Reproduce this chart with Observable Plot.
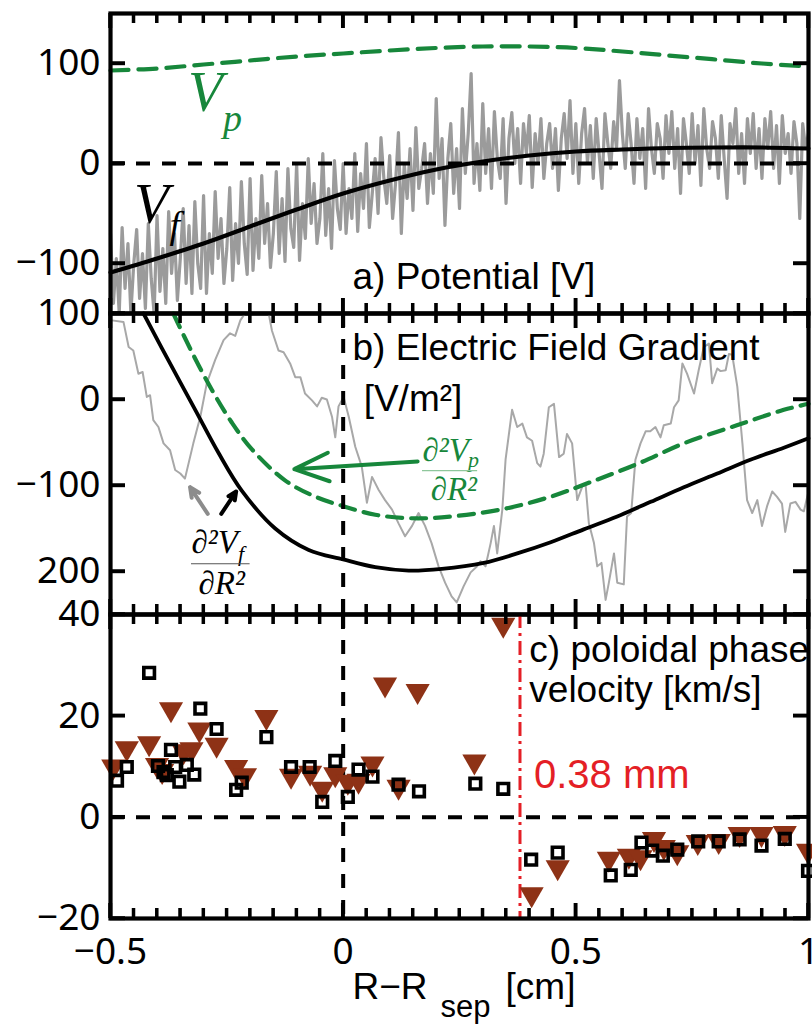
<!DOCTYPE html>
<html><head><meta charset="utf-8">
<script src="https://cdn.jsdelivr.net/npm/d3@7"></script>
<script src="https://cdn.jsdelivr.net/npm/@observablehq/plot@0.6"></script>
<style>body{margin:0;background:#fff;}</style></head>
<body><div id="wrap"></div>
<script>
// ---------- ticks ----------
const xTickMajor = [-0.5, 0, 0.5, 1];
const xTickLabels = ["−0.5", "0", "0.5", "1"];
const xTickMinor = [-0.45,-0.4,-0.35,-0.3,-0.25,-0.2,-0.15,-0.1,-0.05,0.05,0.1,0.15,0.2,0.25,0.3,0.35,0.4,0.45,0.55,0.6,0.65,0.7,0.75,0.8,0.85,0.9,0.95];
const yTicksA = [100, 0, -100];
const yLabelsA = ["100", "0", "−100"];
const yTicksB = [100, 0, -100, -200];
const yLabelsB = ["100", "0", "−100", "200"];
const yTicksC = [40, 20, 0, -20];
const yLabelsC = ["40", "20", "0", "−20"];

// ---------- panel a: potential ----------
const vfRawStart = -0.5, vfRawStep = 0.00625;
const vfRaw = [
-70,-140,-95,-155,-64,-125,-80,-150,-100,-66,-135,-90,-145,-60,-115,-150,
-52,-128,-85,-140,-48,-110,-70,-137,-95,-45,-120,-62,-130,-38,-100,-125,
-32,-130,-70,-110,-28,-95,-55,-120,-85,-24,-117,-60,-100,-18,-80,-111,
-15,-107,-55,-95,-12,-80,-40,-104,-70,-8,-90,-35,-98,-5,-65,-84,
0,-97,-40,-75,5,-60,-20,-80,-55,10,-72,-25,-85,3,-45,-66,
0,-70,-25,-55,10,-68,-10,-45,20,-64,-30,5,-50,26,-15,-40,
8,-55,-20,31,-70,0,-35,15,-47,36,-25,-5,20,-40,10,-30,
65,-15,25,-62,5,40,-30,15,-45,55,-10,30,90,-20,20,-27,
60,-10,35,-25,52,5,-15,45,-40,25,51,0,35,-20,40,10,
48,-24,30,0,45,-15,20,40,-5,35,-27,25,50,5,63,-10,
40,-20,30,55,0,38,-15,45,10,-25,50,20,-5,42,15,83,
30,-5,50,20,-20,45,5,35,-25,55,15,-10,40,25,-15,48,
10,52,-5,35,-30,45,20,-10,50,0,38,-22,55,15,-5,42,
25,-15,48,5,-35,40,20,55,-10,30,-20,45,10,50,-5,35,
-15,45,15,52,-5,38,-20,48,10,30,-10,42,20,-55,40,15,
30];
const fitX = [-0.5,-0.4,-0.3,-0.2,-0.1,0,0.1,0.2,0.3,0.4,0.5,0.6,0.7,0.8,0.9,1.0];
const vfFit = [-109,-95,-80,-63,-46,-30,-17,-6,2,8,12,14,15.5,16,16,15];
const vpFit = [93,95,99,103,107,110,113,115.5,117,117,115.5,112,108,104,100,97];

// ---------- panel b: electric field gradient ----------
const d2vfX = [-0.429,-0.39,-0.35,-0.315,-0.268,-0.218,-0.146,-0.074,0,0.069,0.141,0.212,0.302,0.374,0.446,0.517,0.589,0.661,0.732,0.804,0.875,0.947,1.0];
const d2vfY = [100,60,20,-15,-62,-106,-150,-175,-186,-195,-199,-197,-190,-179,-166,-151,-136,-119,-102,-86,-70,-56,-45];
const d2vpX = [-0.365,-0.325,-0.282,-0.239,-0.196,-0.125,-0.06,0,0.069,0.141,0.212,0.338,0.446,0.532,0.632,0.732,0.846,0.947,1.0];
const d2vpY = [100,55,11,-27,-58,-94,-113,-124,-134,-138,-137,-128,-113,-96,-75,-51,-30,-12,-5];
const gradRawX = [-0.497,-0.472,-0.461,-0.451,-0.44,-0.431,-0.422,-0.415,-0.408,-0.397,-0.386,-0.372,-0.361,-0.35,-0.34,-0.322,-0.307,-0.293,-0.275,-0.257,-0.243,-0.232,-0.221,-0.211,-0.175,-0.16,-0.153,-0.139,-0.128,-0.114,-0.103,-0.092,-0.082,-0.067,-0.056,-0.046,-0.035,-0.024,-0.017,-0.01,0.001,0.012,0.026,0.04,0.051,0.062,0.076,0.09,0.105,0.119,0.133,0.148,0.162,0.176,0.19,0.205,0.219,0.233,0.244,0.259,0.274,0.288,0.295,0.306,0.317,0.324,0.331,0.342,0.349,0.363,0.374,0.385,0.395,0.406,0.417,0.424,0.431,0.442,0.453,0.464,0.474,0.481,0.492,0.503,0.514,0.521,0.528,0.539,0.546,0.555,0.564,0.571,0.582,0.589,0.603,0.61,0.619,0.628,0.639,0.65,0.66,0.671,0.682,0.689,0.704,0.711,0.721,0.729,0.739,0.754,0.764,0.775,0.786,0.793,0.804,0.811,0.822,0.829,0.836,0.847,0.858,0.868,0.879,0.89,0.9,0.911,0.922,0.932,0.943,0.95,0.961,0.972,0.983,0.99,1.0];
const gradRawY = [92,90,61,57,30,32,3,5,-24,-32,-51,-59,-82,-86,-92,-51,-20,19,46,69,77,74,92,108,125,100,80,57,55,42,26,26,7,-1,-8,2,0,-20,-44,-8,3,-20,-55,-78,-120,-90,-105,-117,-128,-144,-159,-147,-132,-147,-167,-194,-213,-229,-236,-217,-201,-194,-188,-194,-167,-147,-179,-128,-70,-12,-32,-28,-44,-48,-74,-78,-63,-9,-5,-67,-63,-40,-51,-117,-101,-99,-144,-167,-194,-190,-233,-213,-179,-213,-215,-136,-132,-70,-51,-37,-37,-32,-44,-30,-28,-9,-1,42,30,7,34,61,65,19,36,33,34,53,52,15,-51,-117,-132,-117,-147,-124,-107,-113,-121,-154,-121,-119,-128,-130,-107];

// ---------- panel c: poloidal phase velocity ----------
const sqX = [-0.486,-0.465,-0.417,-0.398,-0.386,-0.379,-0.37,-0.361,-0.352,-0.336,-0.32,-0.307,-0.272,-0.23,-0.218,-0.165,-0.112,-0.072,-0.045,-0.017,0.01,0.033,0.063,0.119,0.163,0.284,0.344,0.404,0.461,0.575,0.618,0.641,0.664,0.687,0.718,0.763,0.807,0.852,0.899,0.949,0.999];
const sqY = [7.2,9.9,28.5,10.1,8.9,8.3,13.3,9.9,7.0,10.3,8.4,21.4,17.4,5.4,6.8,15.8,9.9,9.9,3.0,11.1,4.0,9.4,8.0,6.4,5.1,6.6,5.6,-8.4,-7.0,-11.5,-10.4,-5.0,-6.6,-7.6,-6.4,-4.8,-4.8,-4.4,-5.6,-4.3,-10.6];
const triX = [-0.494,-0.465,-0.417,-0.4,-0.389,-0.37,-0.343,-0.326,-0.309,-0.272,-0.23,-0.211,-0.165,-0.112,-0.071,-0.045,-0.017,0.01,0.033,0.063,0.09,0.119,0.16,0.282,0.344,0.405,0.461,0.571,0.614,0.639,0.668,0.689,0.718,0.762,0.807,0.852,0.899,0.949,0.999];
const triY = [9.3,12.9,13.9,9.6,8.4,20.6,12.3,12.7,16.6,13.6,9.2,7.6,19.1,7.5,8.1,4.9,7.8,6.3,6.5,9.9,25.5,5.3,24.2,10.3,37.3,-15.9,-10.6,-8.9,-8.3,-8.6,-5.0,-6.6,-7.6,-5.6,-5.4,-4.0,-4.0,-3.8,-7.3];
const sepMarker = [0.38];

// ---------- styles ----------
const GREEN = "#17873b", BROWN = "#8e3216", RED = "#e41f26";
const SANS = "Liberation Sans, Arial, Helvetica, sans-serif";
const SERIF = "Liberation Serif, Times New Roman, serif";
const W = 812, ML = 110, MR = 4;
const FW = W - ML - MR;
const XDOM = [-0.5, 1];
const DASH = "14,12";

function fmtFrom(ticks, labels) { return d => labels[ticks.indexOf(d)] ?? ""; }

// inward ticks first, then the frame and tick labels
function frameAxes(fh, yTicks, yLabels, opts = {}) {
  const marks = [
    Plot.ruleX(xTickMinor, {insetBottom: fh - 10, stroke: "#000", strokeWidth: 3}),
    Plot.ruleX(xTickMinor, {insetTop: fh - 10, stroke: "#000", strokeWidth: 3}),
    Plot.ruleX(xTickMajor, {insetBottom: fh - 15, stroke: "#000", strokeWidth: 3.4}),
    Plot.ruleX(xTickMajor, {insetTop: fh - 15, stroke: "#000", strokeWidth: 3.4}),
    Plot.ruleY(yTicks, {insetRight: FW - 15, stroke: "#000", strokeWidth: 3.4}),
    Plot.ruleY(yTicks, {insetLeft: FW - 15, stroke: "#000", strokeWidth: 3.4}),
    Plot.frame({strokeWidth: 4.2}),
    Plot.axisY({anchor: "left", ticks: yTicks, tickSize: 0, tickPadding: 10, fontSize: 37, tickFormat: fmtFrom(yTicks, yLabels), label: null})
  ];
  if (opts.xLabels) marks.push(Plot.axisX({anchor: "bottom", ticks: xTickMajor, tickSize: 0, tickPadding: 19, fontSize: 37, tickFormat: fmtFrom(xTickMajor, xTickLabels), label: null}));
  return marks;
}

// same ticks, placed with the plot's own scales (backup layer)
function overlayTicks(svg, yTicks) {
  const sx = svg.scale("x"), sy = svg.scale("y");
  const [yb, yt] = sy.range, [xl, xr] = sx.range;
  const g = d3.select(svg).append("g").attr("stroke", "#000").attr("fill", "none");
  const seg = (x1, y1, x2, y2, w) => g.append("line").attr("x1", x1).attr("y1", y1).attr("x2", x2).attr("y2", y2).attr("stroke-width", w);
  xTickMinor.forEach(v => { const x = sx.apply(v); seg(x, yt, x, yt + 10, 3); seg(x, yb, x, yb - 10, 3); });
  xTickMajor.forEach(v => { const x = sx.apply(v); seg(x, yt, x, yt + 15, 3.4); seg(x, yb, x, yb - 15, 3.4); });
  yTicks.forEach(v => { const y = sy.apply(v); seg(xl, y, xl + 15, y, 3.4); seg(xr, y, xr - 15, y, 3.4); });
}

function base(height, mt, mb, ydomain, marks) {
  return Plot.plot({
    width: W, height, marginLeft: ML, marginRight: MR, marginTop: mt, marginBottom: mb,
    x: {domain: XDOM, axis: null},
    y: {domain: ydomain, axis: null, clamp: true},
    style: {background: "transparent", overflow: "visible", display: "block"},
    marks
  });
}

const wrap = document.getElementById("wrap");
function place(svg, yTicks) {
  wrap.appendChild(svg);
  try { overlayTicks(svg, yTicks); } catch (e) { console.error(e); }
}

// ---------- Panel A (svg height 313) ----------
const rawA = vfRaw.map((v, i) => ({x: vfRawStart + i * vfRawStep, y: v}));
const fitA = fitX.map((x, i) => ({x, vf: vfFit[i], vp: vpFit[i]}));
const plotA = base(313, 13, 0, [-150, 150], [
  Plot.line(rawA, {x: "x", y: "y", stroke: "#9b9b9b", strokeWidth: 3.2}),
  Plot.ruleY([0], {stroke: "black", strokeWidth: 4, strokeDasharray: DASH}),
  Plot.line(fitA, {x: "x", y: "vf", stroke: "black", strokeWidth: 4.2, curve: "catmull-rom"}),
  Plot.line(fitA, {x: "x", y: "vp", stroke: GREEN, strokeWidth: 4.2, strokeDasharray: "18,10", curve: "catmull-rom"}),
  Plot.text(["V"], {x: -0.296, y: 53, text: d => d, fontFamily: SERIF, fontStyle: "italic", fontSize: 57, fill: GREEN, textAnchor: "middle", lineAnchor: "bottom"}),
  Plot.text(["p"], {x: -0.238, y: 33, text: d => d, fontFamily: SERIF, fontStyle: "italic", fontSize: 38, fill: GREEN, textAnchor: "middle", lineAnchor: "bottom"}),
  Plot.text(["V"], {x: -0.412, y: -59, text: d => d, fontFamily: SERIF, fontStyle: "italic", fontSize: 57, fill: "black", textAnchor: "middle", lineAnchor: "bottom"}),
  Plot.text(["f"], {x: -0.362, y: -74, text: d => d, fontFamily: SERIF, fontStyle: "italic", fontSize: 38, fill: "black", textAnchor: "middle", lineAnchor: "bottom"}),
  Plot.text(["a) Potential [V]"], {x: 0.02, y: -125, text: d => d, fontFamily: SANS, fontSize: 37, fill: "black", textAnchor: "start", lineAnchor: "bottom"}),
  ...frameAxes(300, yTicksA, yLabelsA)
]);
place(plotA, yTicksA);

// ---------- Panel B (svg height 301) ----------
const rawB = gradRawX.map((x, i) => ({x, y: gradRawY[i]}));
const vfB = d2vfX.map((x, i) => ({x, y: d2vfY[i]}));
const vpB = d2vpX.map((x, i) => ({x, y: d2vpY[i]}));
const plotB = base(301, 0, 0, [-250, 100], [
  Plot.line(rawB, {x: "x", y: "y", stroke: "#a8a8a8", strokeWidth: 2}),
  Plot.line(vfB, {x: "x", y: "y", stroke: "black", strokeWidth: 3.8, curve: "catmull-rom"}),
  Plot.line(vpB, {x: "x", y: "y", stroke: GREEN, strokeWidth: 4.2, strokeDasharray: "15,9", curve: "catmull-rom"}),
  Plot.ruleX([0], {stroke: "black", strokeWidth: 4, strokeDasharray: DASH}),
  Plot.text(["b) Electric Field Gradient"], {x: 0.02, y: 46.5, text: d => d, fontFamily: SANS, fontSize: 37, fill: "black", textAnchor: "start", lineAnchor: "bottom"}),
  Plot.text(["[V/m²]"], {x: 0.044, y: -13, text: d => d, fontFamily: SANS, fontSize: 37, fill: "black", textAnchor: "start", lineAnchor: "bottom"}),
  Plot.arrow([0], {x1: 0.16, y1: -72, x2: -0.105, y2: -81, stroke: GREEN, strokeWidth: 4, headLength: 14, headAngle: 45}),
  Plot.arrow([0], {x1: -0.291, y1: -133, x2: -0.329, y2: -102, stroke: "#8c8c8c", strokeWidth: 4, headLength: 11, headAngle: 50}),
  Plot.arrow([0], {x1: -0.262, y1: -133, x2: -0.23, y2: -107, stroke: "black", strokeWidth: 4, headLength: 11, headAngle: 50}),
  Plot.text(["∂²V"], {x: 0.1705, y: -71, text: d => d, fontFamily: SERIF, fontStyle: "italic", fontSize: 33, fill: GREEN, textAnchor: "start", lineAnchor: "bottom"}),
  Plot.text(["p"], {x: 0.268, y: -79, text: d => d, fontFamily: SERIF, fontStyle: "italic", fontSize: 22, fill: GREEN, textAnchor: "start", lineAnchor: "bottom"}),
  Plot.ruleY([0], {y: -82.6, x1: 0.1705, x2: 0.289, stroke: "#8fc79c", strokeWidth: 1.2}),
  Plot.text(["∂R²"], {x: 0.188, y: -117.4, text: d => d, fontFamily: SERIF, fontStyle: "italic", fontSize: 33, fill: GREEN, textAnchor: "start", lineAnchor: "bottom"}),
  Plot.text(["∂²V"], {x: -0.326, y: -179, text: d => d, fontFamily: SERIF, fontStyle: "italic", fontSize: 33, fill: "black", textAnchor: "start", lineAnchor: "bottom"}),
  Plot.text(["f"], {x: -0.226, y: -188, text: d => d, fontFamily: SERIF, fontStyle: "italic", fontSize: 22, fill: "black", textAnchor: "start", lineAnchor: "bottom"}),
  Plot.ruleY([0], {y: -191, x1: -0.326, x2: -0.2, stroke: "#555", strokeWidth: 1.2}),
  Plot.text(["∂R²"], {x: -0.311, y: -225.6, text: d => d, fontFamily: SERIF, fontStyle: "italic", fontSize: 33, fill: "black", textAnchor: "start", lineAnchor: "bottom"}),
  ...frameAxes(301, yTicksB, yLabelsB)
]);
place(plotB, yTicksB);

// ---------- Panel C (svg height 411) ----------
const triDown = {draw(ctx, size) { const r = Math.sqrt(size / Math.PI); const a = 1.15 * r, h = 2 * r; ctx.moveTo(-a, -h / 2); ctx.lineTo(a, -h / 2); ctx.lineTo(0, h / 2); ctx.closePath(); }};
const sqData = sqX.map((x, i) => ({x, y: sqY[i]}));
const triData = triX.map((x, i) => ({x, y: triY[i]}));
const plotC = base(411, 0, 107, [-20, 40], [
  Plot.ruleY([0], {stroke: "black", strokeWidth: 4, strokeDasharray: DASH}),
  Plot.ruleX([0], {stroke: "black", strokeWidth: 4, strokeDasharray: DASH}),
  Plot.ruleX(sepMarker, {stroke: RED, strokeWidth: 3, strokeDasharray: "14,5,3,5"}),
  Plot.dot(triData, {x: "x", y: "y", symbol: triDown, r: 10.5, fill: BROWN, stroke: "none"}),
  Plot.dot(sqData, {x: "x", y: "y", symbol: "square", r: 6, fill: "none", stroke: "black", strokeWidth: 3.6}),
  Plot.text(["c) poloidal phase"], {x: 0.40, y: 30.6, text: d => d, fontFamily: SANS, fontSize: 37, fill: "black", textAnchor: "start", lineAnchor: "bottom"}),
  Plot.text(["velocity [km/s]"], {x: 0.40, y: 22.7, text: d => d, fontFamily: SANS, fontSize: 37, fill: "black", textAnchor: "start", lineAnchor: "bottom"}),
  Plot.text(["0.38 mm"], {x: 0.41, y: 5.7, text: d => d, fontFamily: SANS, fontSize: 40, fill: RED, textAnchor: "start", lineAnchor: "bottom"}),
  Plot.text(["R−R"], {x: 0.02, frameAnchor: "bottom", dy: 80, text: d => d, fontFamily: SANS, fontSize: 37, fill: "black", textAnchor: "start", lineAnchor: "bottom"}),
  Plot.text(["sep"], {x: 0.209, frameAnchor: "bottom", dy: 98, text: d => d, fontFamily: SANS, fontSize: 31, fill: "black", textAnchor: "start", lineAnchor: "bottom"}),
  Plot.text(["[cm]"], {x: 0.349, frameAnchor: "bottom", dy: 80, text: d => d, fontFamily: SANS, fontSize: 37, fill: "black", textAnchor: "start", lineAnchor: "bottom"}),
  ...frameAxes(304, yTicksC, yLabelsC, {xLabels: true})
]);
place(plotC, yTicksC);
</script>
</body></html>
